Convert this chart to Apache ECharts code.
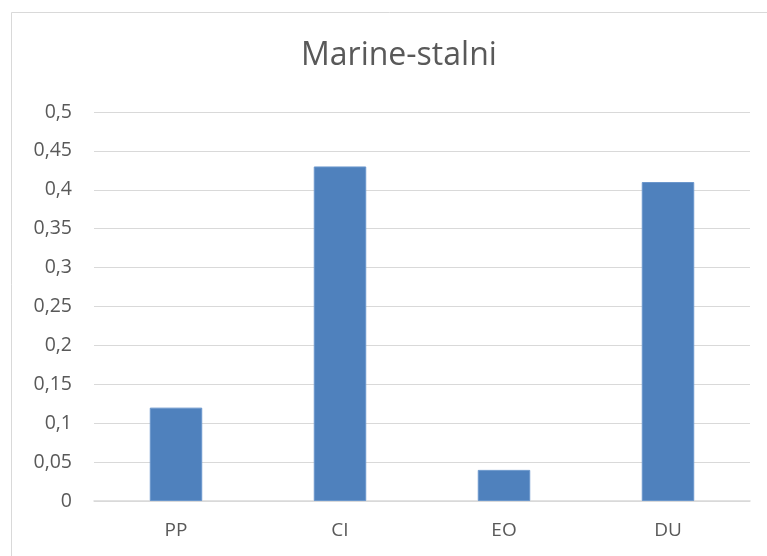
<!DOCTYPE html>
<html><head><meta charset="utf-8">
<script src="https://cdn.jsdelivr.net/npm/echarts@6/dist/echarts.min.js"></script>
<style>html,body{margin:0;padding:0;background:#fff}#c{width:767px;height:556px}</style>
</head><body><div id="c"></div>
<script>
var categories = ['PP', 'CI', 'EO', 'DU'];
var values = [0.12, 0.43, 0.04, 0.41];
var titleText = 'Marine-stalni';
var chart = echarts.init(document.getElementById('c'), null, {renderer: 'canvas'});
var font = '"Open Sans", "Liberation Sans", sans-serif';
chart.setOption({
  animation: false,
  backgroundColor: '#fff',
  graphic: [{
    type: 'rect', shape: {x: 11.5, y: 12.5, width: 900, height: 700},
    style: {fill: 'none', stroke: '#d9d9d9', lineWidth: 1}
  }],
  title: {
    text: titleText, left: 296, top: 35,
    textStyle: {fontFamily: font, fontSize: 32, fontWeight: 'normal', color: '#595959'}
  },
  grid: {left: 94, right: 17, top: 112, bottom: 55, containLabel: false},
  xAxis: {
    type: 'category', data: categories,
    axisLine: {lineStyle: {color: '#d9d9d9', width: 1.5}},
    axisTick: {show: false},
    axisLabel: {fontFamily: font, fontSize: 19, color: '#595959', margin: 20}
  },
  yAxis: {
    type: 'value', min: 0, max: 0.5, interval: 0.05,
    axisLine: {show: false}, axisTick: {show: false},
    splitLine: {lineStyle: {color: '#d9d9d9', width: 1}},
    axisLabel: {fontFamily: font, fontSize: 19.5, color: '#595959', margin: 22,
      formatter: function (v) { return String(Math.round(v * 100) / 100).replace('.', ','); }}
  },
  series: [{
    type: 'bar', data: values, barWidth: '32%',
    itemStyle: {color: '#4f81bd', borderColor: '#6b97cc', borderWidth: 1}
  }]
});
</script></body></html>
